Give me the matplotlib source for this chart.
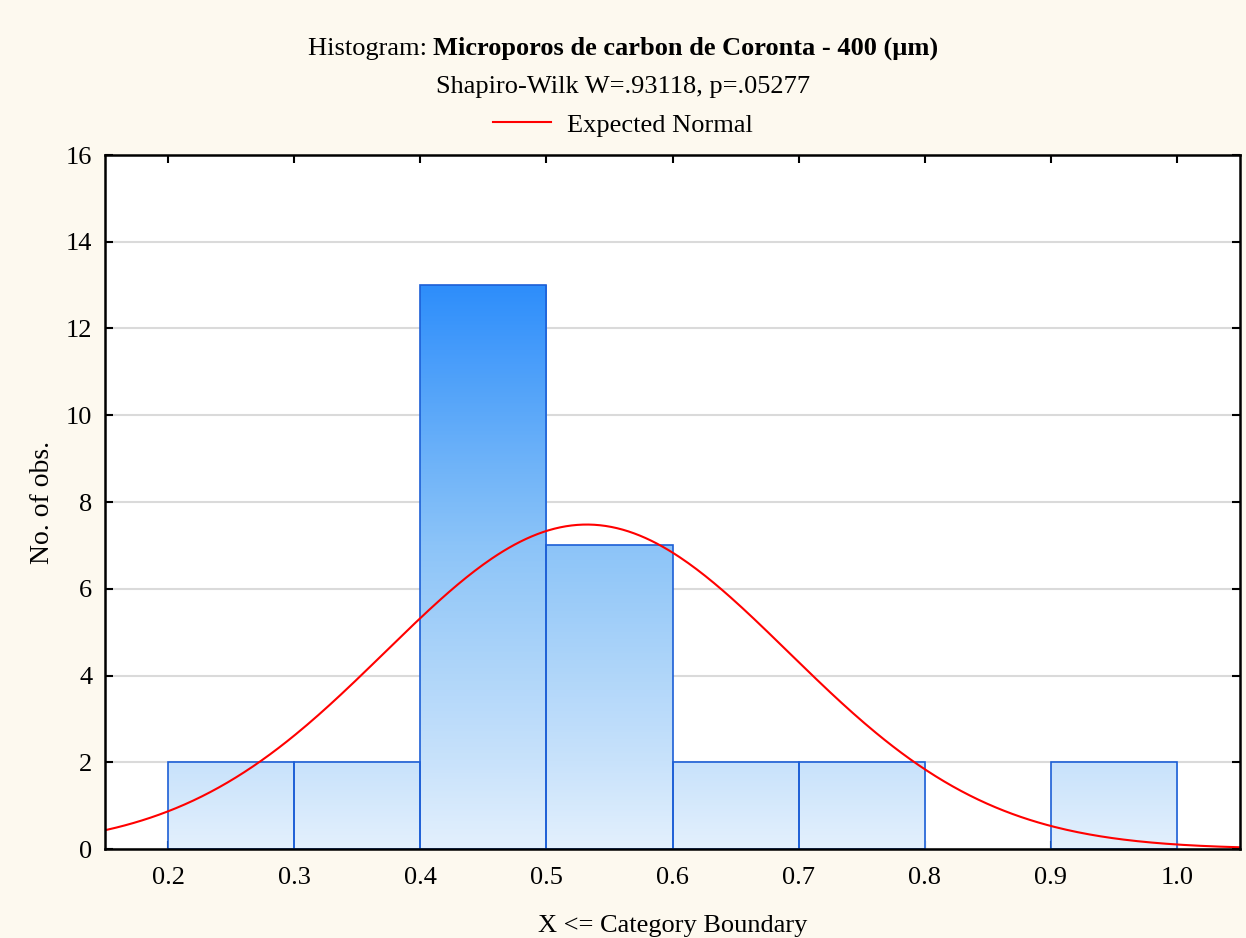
from matplotlib import pyplot as plt
from matplotlib.colors import LinearSegmentedColormap
import numpy as np

# histogram data
bin_left = [0.2, 0.3, 0.4, 0.5, 0.6, 0.7, 0.8, 0.9]
counts = [2, 2, 13, 7, 2, 2, 0, 2]
bin_width = 0.1
xticks = [0.2, 0.3, 0.4, 0.5, 0.6, 0.7, 0.8, 0.9, 1.0]
xticklabels = ["0.2", "0.3", "0.4", "0.5", "0.6", "0.7", "0.8", "0.9", "1.0"]
yticks = [0, 2, 4, 6, 8, 10, 12, 14, 16]

# expected normal parameters (estimated from the curve)
fit_mean = 0.532
fit_sd = 0.160

plt.rcParams['font.family'] = ['Liberation Serif', 'DejaVu Serif']
plt.rcParams['font.size'] = 19

bg = "#FDF9EF"
fig = plt.figure(figsize=(12.46, 9.38), dpi=100, facecolor=bg)
ax = fig.add_axes([105/1246, 1-849/938, 1135/1246, 694/938])
ax.set_facecolor("white")

cmap = LinearSegmentedColormap.from_list(
    "bars", [(0.0, "#E3F0FD"), (2/13, "#C8E2FB"), (7/13, "#8CC4F8"), (1.0, "#2E8EFB")])
ymax_count = max(counts)
for left, c in zip(bin_left, counts):
    if c == 0:
        continue
    grad = np.linspace(0, c / ymax_count, 200).reshape(-1, 1)
    ax.imshow(grad, extent=(left, left + bin_width, 0, c), origin="lower",
              cmap=cmap, vmin=0, vmax=1, aspect="auto", zorder=2)
    ax.bar(left, c, width=bin_width, align="edge", facecolor="none",
           edgecolor="#1D5FD6", linewidth=1.2, zorder=3)

xs = np.linspace(0.15, 1.05, 400)
n = sum(counts)
ys = n * bin_width / (fit_sd * np.sqrt(2 * np.pi)) * np.exp(-0.5 * ((xs - fit_mean) / fit_sd) ** 2)
ax.plot(xs, ys, color="red", linewidth=1.5, zorder=4, label="Expected Normal")

ax.set_xlim(0.15, 1.05)
ax.set_ylim(0, 16)
ax.set_xticks(xticks)
ax.set_xticklabels(xticklabels)
ax.set_yticks(yticks)
ax.yaxis.grid(True, color="#DADADA", linewidth=1.5, zorder=0)
ax.set_axisbelow(True)
ax.tick_params(direction="in", top=True, right=True, length=6, width=1.5)
ax.tick_params(axis="x", pad=13)
ax.tick_params(axis="y", pad=9)
for s in ax.spines.values():
    s.set_linewidth(1.8)
    s.set_zorder(5)

ax.set_xlabel("X <= Category Boundary", labelpad=19)
ax.set_ylabel("No. of obs.", labelpad=8, fontsize=20)

# title: normal + bold part, centred together on one baseline
renderer = fig.canvas.get_renderer()
part1 = "Histogram: "
part2 = "Microporos de carbon de Coronta - 400 (\u00b5m)"
t1 = fig.text(0, 0, part1, va="baseline")
t2 = fig.text(0, 0, part2, fontweight="bold", va="baseline")
w1 = t1.get_window_extent(renderer).width
w2 = t2.get_window_extent(renderer).width
x0 = (1246 - (w1 + w2)) / 2
ty = 1 - 55/938
t1.set_position((x0 / 1246, ty))
t2.set_position(((x0 + w1) / 1246, ty))

fig.text(0.5, 1 - 87/938, "Shapiro-Wilk W=.93118, p=.05277", ha="center", va="center")
fig.legend(loc="center", bbox_to_anchor=(0.5, 1 - 125/938), frameon=False,
           handlelength=2.2, handletextpad=0.6)

fig.savefig("out.png", dpi=100, facecolor=bg)
